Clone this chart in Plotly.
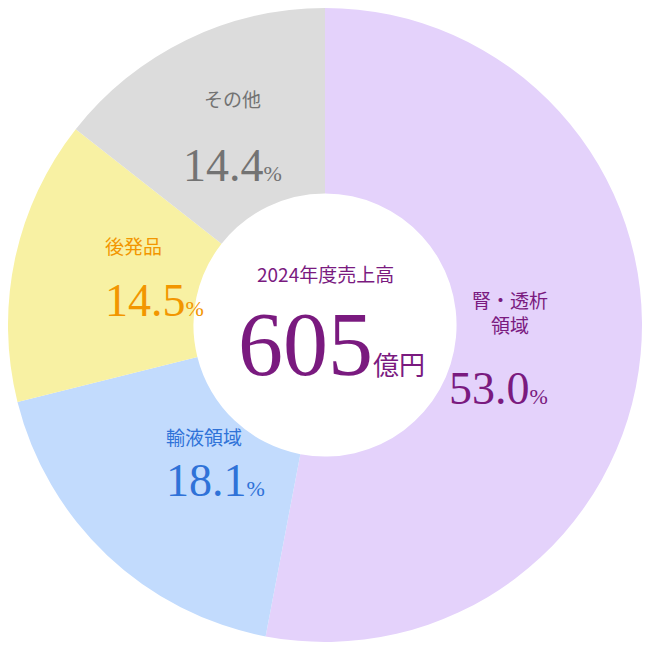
import plotly.graph_objects as go

segments = ['腎・透析領域', '輸液領域', '後発品', 'その他']
shares = [53.0, 18.1, 14.5, 14.4]
colors = ['#e4d2fb', '#c2dbfd', '#f8f1a3', '#dcdcdc']
text_colors = ['#7a1a7f', '#2f72d8', '#f29600', '#737373']
label_html = ['腎・透析<br>領域', '輸液領域', '後発品', 'その他']
label_pos = [(0.855, 0.52), (0.246, 0.3), (0.15, 0.625), (0.354, 0.882)]
value_pos = [(0.855, 0.4), (0.246, 0.212), (0.15, 0.538), (0.354, 0.795)]
total_label = '2024年度売上高'
total_value = 605
total_unit = '億円'

fig = go.Figure(go.Pie(
    labels=segments, values=shares, hole=0.415, sort=False,
    direction='clockwise', rotation=0,
    marker=dict(colors=colors, line=dict(color='white', width=0)),
    textinfo='none', hoverinfo='label+percent', showlegend=False,
))

ann = []
for name, v, c, (lx, ly), (vx, vy) in zip(label_html, shares, text_colors, label_pos, value_pos):
    ann.append(dict(x=lx, y=ly, text=name, showarrow=False,
                    font=dict(family='Noto Sans CJK JP', size=19, color=c)))
    ann.append(dict(x=vx, y=vy, showarrow=False,
                    text=f"{v:.1f}<span style='font-size:22px'>%</span>",
                    font=dict(family='Liberation Serif', size=46, color=c)))
ann.append(dict(x=0.5, y=0.582, text=total_label, showarrow=False,
                font=dict(family='Noto Sans CJK JP', size=19, color='#7a1a7f')))
ann.append(dict(x=0.51, y=0.47, showarrow=False,
                text=f"{total_value}<span style='font-size:26px;font-family:Noto Sans CJK JP'>{total_unit}</span>",
                font=dict(family='Liberation Serif', size=90, color='#7a1a7f')))

fig.update_layout(autosize=True, margin=dict(l=0, r=0, t=0, b=0),
                  paper_bgcolor='white', annotations=ann)
fig.write_html('out.html')
